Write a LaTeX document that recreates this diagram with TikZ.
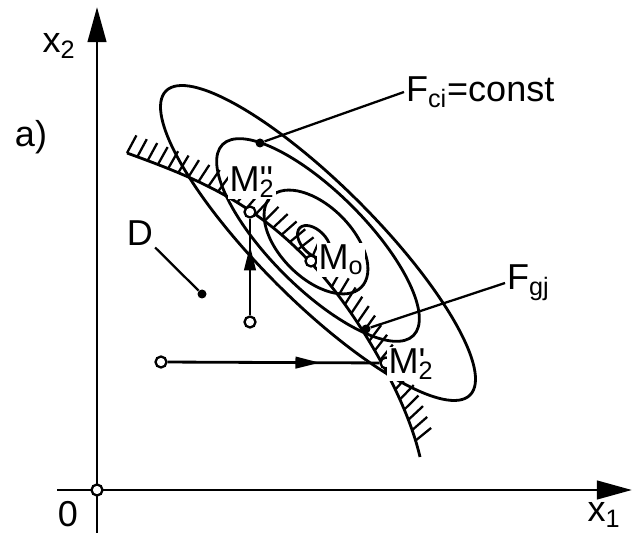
\documentclass[tikz,border=0pt]{standalone}
\usepackage{fontspec}
\setmainfont{Liberation Sans}
\newfontfamily\plainsf[Ligatures=TeXOff]{Liberation Sans}
\usetikzlibrary{arrows.meta, decorations.pathreplacing, decorations.markings}
\tikzstyle{axis} = [line width=1.7pt, -{Triangle[length=20pt, width=10.5pt]}]
\tikzstyle{curve} = [line width=1.6pt]
\tikzstyle{leader} = [line width=1.3pt]
\tikzstyle{hatch} = [draw, line width=1.3pt, decorate, decoration={border, segment length=0.22cm, amplitude=0.4cm, angle=#1}]
\tikzstyle{opoint} = [circle, draw, fill=white, line width=1.3pt, inner sep=0pt, minimum size=0.22cm]
\tikzstyle{dpoint} = [circle, fill, inner sep=0pt, minimum size=0.18cm]
\tikzstyle{lbl} = [font=\fontsize{20.5}{24}\selectfont, inner sep=1pt]
\tikzstyle{plbl} = [lbl, fill=white]
\tikzstyle{midarrow} = [postaction={decorate}, decoration={markings, mark=at position 0.72 with {\arrow{Triangle[length=14pt, width=6.5pt]}}}]
\newcommand{\Mlab}[2]{M\rlap{\plainsf #1}\textsubscript{2}}

\begin{document}
\begin{tikzpicture}[x=0.02cm, y=-0.02cm]
    \useasboundingbox (0,0) rectangle (632,533);
    % axes
    \coordinate (ybot) at (97,533);
    \coordinate (ytop) at (97,7);
    \coordinate (xleft) at (57,490);
    \coordinate (xright) at (632,490);
    \draw[axis] (ybot) -- (ytop);
    \draw[axis] (xleft) -- (xright);
    \node[opoint] (orig) at (97,490) {};
    \node[lbl] (x2lab) at (59,46) {x\textsubscript{2}};
    \node[lbl] (x1lab) at (604,515) {x\textsubscript{1}};
    \node[lbl] (zero) at (68,514) {0};
    \node[lbl] (alab) at (31,137) {a)};
    % contours
    \draw[curve, rotate around={-45:(318,243)}] (318,243) ellipse [x radius=215, y radius=58];
    \draw[curve, rotate around={-45:(318,240)}] (318,240) ellipse [x radius=135, y radius=48];
    \draw[curve, rotate around={-45:(316,242)}] (316,242) ellipse [x radius=64, y radius=36];
    \draw[curve, rotate around={-45:(314,242)}] (314,242) ellipse [x radius=20, y radius=12];
    % constraint
    \coordinate (gstart) at (127,153);
    \coordinate (gmid) at (310,262);
    \coordinate (gend) at (420,457);
    \draw[curve] (gstart) .. controls (187,175) and (250,198) .. (gmid)
        .. controls (352,305) and (405,392) .. (gend);
    \path[hatch=82] (gstart) .. controls (187,175) and (250,198) .. (gmid);
    \path[hatch=112] (gmid) .. controls (352,305) and (405,392) .. (gend);
    % moves
    \node[opoint] (start1) at (250,322) {};
    \node[opoint] (start2) at (161,362) {};
    \node[opoint] (m2pp) at (250,212) {};
    \node[opoint] (m2p) at (386,363) {};
    \node[opoint] (m0) at (311,261) {};
    \draw[curve, midarrow] (start1) -- (m2pp);
    \draw[curve, midarrow] (start2) -- (m2p);
    \node[plbl] (m2pplab) at (252,182) {\Mlab{''}{2}};
    \node[plbl] (m2plab) at (411,364) {\Mlab{'}{2}};
    \node[plbl] (m0lab) at (341,260) {M\textsubscript{o}};
    % leaders
    \node[dpoint] (ddot) at (202,294) {};
    \node[lbl] (dlab) at (140,233) {D};
    \draw[leader] (dlab.south east) -- (ddot);
    \node[dpoint] (fcidot) at (260,143) {};
    \node[lbl, anchor=west] (fcilab) at (404,92) {F\textsubscript{ci}=const};
    \draw[leader] (fcidot) -- (fcilab.west);
    \node[dpoint] (fgjdot) at (366,329) {};
    \node[lbl, anchor=west] (fgjlab) at (505,283) {F\textsubscript{gj}};
    \draw[leader] (fgjdot) -- (fgjlab.west);
\end{tikzpicture}
\end{document}
